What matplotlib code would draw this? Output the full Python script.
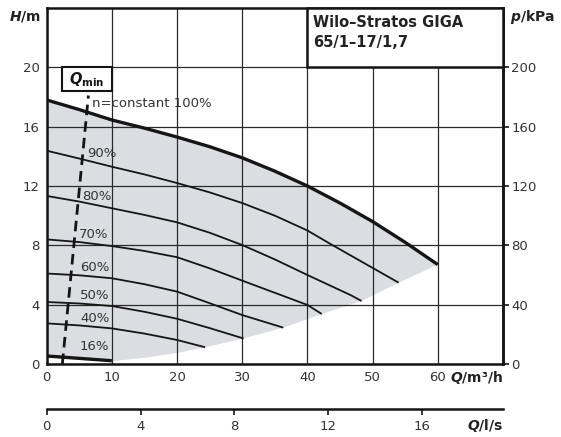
import matplotlib
matplotlib.use("Agg")
import matplotlib.pyplot as plt
from matplotlib.patches import Rectangle

# ---- data ----
q100 = [0, 5, 10, 15, 20, 25, 30, 35, 40, 45, 50, 55, 60]
h100 = [17.8, 17.15, 16.45, 15.9, 15.3, 14.65, 13.9, 13.0, 12.0, 10.85, 9.6, 8.2, 6.7]
q90 = [0, 5, 10, 15, 20, 25, 30, 35, 40, 43.5, 54]
h90 = [14.38, 13.85, 13.3, 12.78, 12.2, 11.57, 10.85, 10.0, 9.0, 8.1, 5.48]
q80 = [0, 5, 10, 15, 20, 25, 30, 35, 40, 46.6, 48.3]
h80 = [11.33, 10.95, 10.5, 10.05, 9.55, 8.85, 8.02, 7.05, 6.0, 4.65, 4.25]
q70 = [0, 5, 10, 15, 20, 25, 30, 35, 40, 42.2]
h70 = [8.4, 8.22, 7.95, 7.62, 7.2, 6.45, 5.62, 4.8, 3.98, 3.37]
q60 = [0, 5, 10, 15, 20, 25, 30, 36.3]
h60 = [6.1, 5.98, 5.78, 5.38, 4.88, 4.1, 3.3, 2.45]
q50 = [0, 5, 10, 15, 20, 25, 30.2]
h50 = [4.18, 4.08, 3.91, 3.52, 3.05, 2.42, 1.72]
q40 = [0, 5, 10, 15, 20, 24.3]
h40 = [2.74, 2.6, 2.4, 2.05, 1.62, 1.13]
q16 = [0, 10]
h16 = [0.54, 0.22]
# lower limit of the operating range
q_low = [10, 15, 20, 24.3, 30.2, 36.3, 42.2, 48.3, 54, 60]
h_low = [0.19, 0.42, 0.74, 1.13, 1.72, 2.45, 3.37, 4.25, 5.48, 6.7]
# Qmin line
qmin_q = [2.4, 6.4]
qmin_h = [0, 18.1]

speed_labels = ["90%", "80%", "70%", "60%", "50%", "40%", "16%"]
speed_label_q = [6.2, 5.5, 5.0, 5.1, 5.1, 5.1, 5.1]
speed_label_h = [14.2, 11.3, 8.7, 6.5, 4.65, 3.1, 1.15]

x_ticks = [0, 10, 20, 30, 40, 50, 60]
y_ticks = [0, 4, 8, 12, 16, 20]
p_ticks = [0, 40, 80, 120, 160, 200]
ls_ticks = [0, 4, 8, 12, 16]

W, H = 561, 437
fig = plt.figure(figsize=(W / 100, H / 100), dpi=100)
plt.rcParams['font.family'] = ['DejaVu Sans']
TXT = '#333333'
LN = '#151515'

def px(x, y):
    return (x / W, 1 - y / H)

left, right, top, bottom = 46.7, 503, 8, 364
ax = fig.add_axes([left / W, 1 - bottom / H, (right - left) / W, (bottom - top) / H])
ax.set_xlim(0, 70)
ax.set_ylim(0, 24)

# gray operating range
poly_q = list(q100) + list(q_low[::-1]) + [q16[1], q16[0]]
poly_h = list(h100) + list(h_low[::-1]) + [h16[1], h16[0]]
ax.fill(poly_q, poly_h, color='#dcdde0', lw=0, zorder=0.2)

ax.set_xticks(x_ticks)
ax.set_yticks(y_ticks)
ax.set_axisbelow(True)
ax.grid(True, color='#2a2a2a', lw=0.9)
ax.tick_params(length=0, labelsize=9.5, labelcolor=TXT, pad=5)
for s in ax.spines.values():
    s.set_linewidth(1.8)
    s.set_color(LN)

# curves
ax.plot(q100, h100, color=LN, lw=2.4, zorder=3, solid_capstyle='butt', solid_joinstyle='round')
for qq, hh in [(q90, h90), (q80, h80), (q70, h70), (q60, h60), (q50, h50), (q40, h40)]:
    ax.plot(qq, hh, color=LN, lw=1.3, zorder=3, solid_capstyle='butt', solid_joinstyle='round')
ax.plot(q16, h16, color=LN, lw=2.4, zorder=3, solid_capstyle='butt')
ax.plot(qmin_q, qmin_h, color=LN, lw=2.0, dashes=(3.8, 2.2), zorder=3)

for lab, lq, lh in zip(speed_labels, speed_label_q, speed_label_h):
    ax.text(lq, lh, lab, fontsize=9.5, color=TXT, va='center', ha='left', zorder=4)
ax.text(7.0, 17.55, "n=constant 100%", fontsize=9.5, color=TXT, va='center', ha='left', zorder=4)

# Qmin box
ax.add_patch(Rectangle((2.3, 18.4), 7.7, 1.6, facecolor='white', edgecolor=LN, lw=1.5, zorder=5))
ax.text(6.15, 19.2, r'$\boldsymbol{Q}_{\mathbf{min}}$', fontsize=10.5, ha='center', va='center',
        color=LN, zorder=6)

# title box
ax.add_patch(Rectangle((40, 20), 30, 4, facecolor='white', edgecolor=LN, lw=1.8, zorder=5,
                       clip_on=False))
ax.text(40.9, 23.55, "Wilo–Stratos GIGA\n65/1–17/1,7", fontsize=10.5, fontweight='bold',
        ha='left', va='top', color='#222222', linespacing=1.45, zorder=6)

# right axis p/kPa
sy = ax.secondary_yaxis('right', functions=(lambda h: h * 10, lambda p: p / 10))
sy.set_yticks(p_ticks)
sy.tick_params(length=4, width=1.2, pad=2, labelsize=9.5, labelcolor=TXT, color=LN)
sy.spines['right'].set_linewidth(1.8)

# second x axis l/s
sx = ax.secondary_xaxis((bottom - 409) / (bottom - top),
                        functions=(lambda q: q / 3.6, lambda s: s * 3.6))
sx.set_xticks(ls_ticks)
sx.tick_params(length=4, width=1.2, pad=4, labelsize=9.5, labelcolor=TXT, color=LN)
sx.spines['bottom'].set_linewidth(1.8)
sx.spines['bottom'].set_color(LN)

# axis titles
fig.text(*px(41, 17), r'$\boldsymbol{H}$/m', fontsize=10, fontweight='bold', ha='right', va='center', color='#222')
fig.text(*px(510, 17), r'$\boldsymbol{p}$/kPa', fontsize=10, fontweight='bold', ha='left', va='center', color='#222')
fig.text(*px(503, 377), r'$\boldsymbol{Q}$/m³/h', fontsize=10, fontweight='bold', ha='right', va='center', color='#222')
fig.text(*px(503, 425), r'$\boldsymbol{Q}$/l/s', fontsize=10, fontweight='bold', ha='right', va='center', color='#222')

fig.savefig("out.png", dpi=100)
